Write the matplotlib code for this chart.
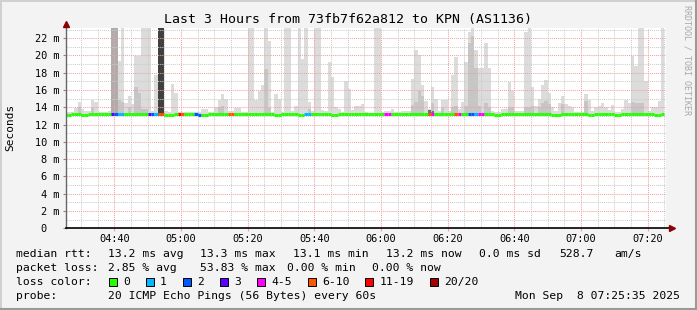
import numpy as np
import matplotlib
matplotlib.use("Agg")
import matplotlib.pyplot as plt
from matplotlib.patches import Rectangle

plt.rcParams["font.family"] = "DejaVu Sans Mono"

# one smoke bin per minute; minutes are counted from 04:00, bin 0 = 04:25-04:26
first_bin = 25
view_start = 25 + 35 / 60          # 04:25:35
view_end = view_start + 180        # 07:25:35
y_top = 23.18                      # ms, top of the canvas

smoke_min = 12.95  # ms, bottom of the smoke

# top of the light smoke (ms), 25.0 = off the top of the chart
smoke_max = [
    13.5, 13.5, 13.5, 13.9, 14.6, 13.8, 13.6, 13.6, 14.9, 14.6,
    13.5, 13.5, 13.5, 13.6, 25.0, 25.0, 19.4, 25.0, 14.5, 15.35,
    14.4, 19.9, 19.9, 25.0, 25.0, 25.0, 13.6, 17.7, 25.0, 25.0,
    13.6, 13.5, 16.7, 15.7, 13.5, 13.5, 13.5, 13.5, 13.5, 13.5,
    13.5, 13.8, 13.8, 13.5, 13.5, 14.0, 14.8, 15.5, 15.0, 13.6,
    13.6, 13.9, 13.9, 13.5, 13.5, 25.0, 25.0, 14.8, 15.9, 16.6,
    25.0, 21.7, 13.5, 15.5, 15.0, 13.5, 25.0, 25.0, 13.6, 14.2,
    25.0, 19.6, 25.0, 14.6, 13.6, 25.0, 25.0, 13.7, 13.55, 19.2,
    17.5, 14.0, 13.8, 13.5, 17.0, 16.1, 13.7, 14.2, 14.2, 14.4,
    13.5, 13.4, 13.4, 25.0, 25.0, 13.5, 13.6, 13.6, 13.8, 13.5,
    13.5, 13.55, 13.55, 13.55, 17.3, 20.6, 20.0, 16.6, 14.7, 13.8,
    16.4, 15.0, 13.55, 14.9, 14.9, 13.55, 17.7, 19.8, 13.8, 14.6,
    19.2, 22.7, 25.0, 20.6, 18.6, 18.6, 21.5, 18.6, 13.55, 13.5,
    13.5, 13.8, 13.8, 16.9, 15.9, 13.55, 13.6, 13.6, 22.7, 25.0,
    16.4, 14.2, 15.0, 16.6, 17.2, 15.7, 14.0, 13.55, 14.5, 15.35,
    14.4, 14.2, 14.0, 13.5, 13.5, 13.5, 15.5, 14.9, 13.55, 14.0,
    14.2, 14.5, 14.0, 13.7, 14.3, 13.5, 13.5, 13.8, 14.9, 14.5,
    19.9, 18.8, 25.0, 25.0, 17.0, 13.55, 14.0, 14.0, 14.7, 25.0,
]

# denser inner smoke: bin -> top (ms)
smoke_mid = {
    4: 14.0, 8: 13.9, 16: 14.9, 17: 14.6, 19: 14.0, 21: 16.4, 22: 15.6,
    23: 13.8, 24: 13.8, 46: 14.0, 47: 14.1, 60: 18.4, 61: 13.9, 73: 13.8,
    104: 14.3, 105: 14.6, 106: 15.9, 107: 15.35, 110: 14.5, 113: 13.9,
    116: 14.0, 117: 14.2, 120: 14.2, 121: 21.5, 122: 22.2, 123: 18.6,
    124: 14.2, 126: 14.5, 127: 14.0, 133: 14.0, 134: 14.0, 138: 14.0,
    139: 14.0, 140: 14.2, 142: 14.0, 143: 14.5, 144: 14.7, 145: 14.4,
    149: 14.4, 156: 14.7, 170: 14.6, 171: 14.5, 172: 14.5, 173: 14.5,
}
heavy_top = {14: 25.0, 15: 25.0}
black_top = {28: 25.0, 29: 25.0}
dark_top = {109: 13.7, 110: 13.6}

median_rtt = [
    13.1, 13.1, 13.2, 13.2, 13.2, 13.1, 13.1, 13.2, 13.2, 13.2, 13.2, 13.2, 13.2, 13.2, 13.2, 13.2, 13.2, 13.2, 13.2, 13.2,
    13.2, 13.2, 13.2, 13.2, 13.2, 13.2, 13.2, 13.2, 13.2, 13.2, 13.1, 13.1, 13.1, 13.2, 13.2, 13.2, 13.2, 13.2, 13.2, 13.2,
    13.1, 13.1, 13.1, 13.2, 13.2, 13.2, 13.2, 13.2, 13.2, 13.2, 13.2, 13.2, 13.2, 13.2, 13.2, 13.2, 13.2, 13.2, 13.2, 13.2,
    13.2, 13.2, 13.2, 13.1, 13.1, 13.2, 13.2, 13.2, 13.2, 13.2, 13.1, 13.1, 13.2, 13.2, 13.2, 13.2, 13.2, 13.2, 13.2, 13.2,
    13.1, 13.1, 13.2, 13.2, 13.2, 13.2, 13.2, 13.2, 13.2, 13.2, 13.2, 13.2, 13.2, 13.2, 13.2, 13.2, 13.2, 13.2, 13.2, 13.2,
    13.2, 13.2, 13.2, 13.2, 13.2, 13.2, 13.2, 13.2, 13.2, 13.2, 13.2, 13.2, 13.2, 13.2, 13.2, 13.2, 13.2, 13.2, 13.2, 13.2,
    13.2, 13.2, 13.2, 13.2, 13.2, 13.2, 13.2, 13.2, 13.2, 13.1, 13.1, 13.2, 13.2, 13.2, 13.2, 13.2, 13.2, 13.2, 13.2, 13.2,
    13.2, 13.2, 13.2, 13.2, 13.2, 13.2, 13.1, 13.1, 13.1, 13.2, 13.2, 13.2, 13.2, 13.2, 13.2, 13.2, 13.2, 13.1, 13.1, 13.2,
    13.2, 13.2, 13.2, 13.2, 13.2, 13.1, 13.1, 13.2, 13.2, 13.2, 13.2, 13.2, 13.2, 13.2, 13.2, 13.2, 13.2, 13.1, 13.1, 13.2,
]

# index into loss_labels for each bin
loss_level = [
    0, 0, 0, 0, 0, 0, 0, 0, 0, 0, 0, 0, 0, 0, 3, 2, 1, 1, 0, 0,
    0, 0, 0, 0, 0, 3, 2, 1, 5, 5, 0, 0, 0, 0, 6, 5, 0, 0, 0, 2,
    2, 0, 0, 0, 0, 0, 0, 0, 0, 5, 5, 0, 0, 0, 0, 0, 0, 0, 0, 0,
    0, 0, 0, 0, 0, 0, 0, 0, 0, 0, 0, 0, 1, 1, 0, 0, 0, 0, 0, 0,
    0, 0, 0, 0, 0, 0, 0, 0, 0, 0, 0, 0, 0, 0, 0, 0, 4, 4, 0, 0,
    0, 0, 0, 0, 0, 0, 0, 0, 0, 5, 4, 0, 0, 0, 0, 0, 0, 5, 4, 0,
    0, 2, 2, 1, 4, 4, 0, 0, 0, 0, 0, 0, 0, 0, 0, 0, 0, 0, 0, 0,
    0, 0, 0, 0, 0, 0, 0, 0, 0, 0, 0, 0, 0, 0, 0, 0, 0, 0, 0, 0,
    0, 0, 0, 0, 0, 0, 0, 0, 0, 0, 0, 0, 0, 0, 0, 0, 0, 0, 0, 0,
]
loss_labels = ["0", "1", "2", "3", "4-5", "6-10", "11-19", "20/20"]
loss_colors = ["#26ff00", "#00b8ff", "#0059ff", "#5e00ff",
               "#ff00ff", "#ff5500", "#ff0000", "#a10000"]

time_ticks = [40, 60, 80, 100, 120, 140, 160, 180, 200]
time_labels = ["04:40", "05:00", "05:20", "05:40", "06:00",
               "06:20", "06:40", "07:00", "07:20"]
ms_ticks = [0, 2, 4, 6, 8, 10, 12, 14, 16, 18, 20, 22]
ms_labels = ["0  "] + [f"{v} m" for v in ms_ticks[1:]]

title = "Last 3 Hours from 73fb7f62a812 to KPN (AS1136)"
rtt_stats = ["13.2 ms avg", "13.3 ms max", "13.1 ms min", "13.2 ms now",
             "0.0 ms sd", "528.7", "am/s"]
loss_stats = ["2.85 % avg", "53.83 % max", "0.00 % min", "0.00 % now"]
probe_text = "20 ICMP Echo Pings (56 Bytes) every 60s"
stamp = "Mon Sep  8 07:25:35 2025"

W, H = 697, 310
fig = plt.figure(figsize=(W / 100, H / 100), dpi=100, facecolor="#f3f3f3")
ax = fig.add_axes([66.3 / W, (H - 228.3) / H, 600 / W, 200.3 / H])
ax.set_facecolor("white")
for s in ax.spines.values():
    s.set_visible(False)

bins = first_bin + np.arange(len(smoke_max))

# smoke
ax.bar(bins, np.array(smoke_max) - smoke_min, bottom=smoke_min, width=1,
       align="edge", color="#dcdcdc", linewidth=0, zorder=1)
mb = np.array(list(smoke_mid.keys()))
ax.bar(first_bin + mb, np.array(list(smoke_mid.values())) - smoke_min,
       bottom=smoke_min, width=1, align="edge", color="#c6c6c6",
       linewidth=0, zorder=1.1)
for d, col in ((heavy_top, "#adadad"), (black_top, "#404040"),
               (dark_top, "#707070")):
    k = np.array(list(d.keys()))
    ax.bar(first_bin + k, np.array(list(d.values())) - smoke_min,
           bottom=smoke_min, width=1, align="edge", color=col,
           linewidth=0, zorder=1.2)

# median, coloured by loss
seg_colors = [loss_colors[i] for i in loss_level]
ax.hlines(median_rtt, bins, bins + 1, colors=seg_colors, linewidth=2.2,
          capstyle="butt", zorder=3)

ax.set_xlim(view_start, view_end)
ax.set_ylim(0, y_top)

ax.set_xticks(time_ticks)
ax.set_xticklabels(time_labels)
ax.set_xticks([m for m in range(30, 206, 5) if m % 20], minor=True)
ax.set_yticks(ms_ticks)
ax.set_yticklabels(ms_labels)
ax.set_yticks(list(range(1, 24, 2)), minor=True)
ax.set_axisbelow(False)
ax.grid(which="minor", color="#cccccc", linestyle=(0, (1, 1)), linewidth=0.75)
ax.grid(which="major", color="#f4a0a0", linestyle=(0, (1, 1)), linewidth=0.75)
ax.tick_params(which="both", length=0, labelsize=7.4, colors="black")
ax.tick_params(axis="y", which="major", length=2, color="#888888", pad=3)
ax.tick_params(axis="x", which="major", length=2, color="#f4a0a0", pad=2)

# axes with arrows
ax.plot([view_start, view_start], [0, 23.6], color="#666666", lw=1,
        clip_on=False, zorder=5)
ax.plot([view_start, 207.0], [0, 0], color="black", lw=1.2,
        clip_on=False, zorder=5)
ax.plot(view_start, 23.7, marker="^", ms=4.5, color="#8b0000",
        clip_on=False, zorder=6)
ax.plot(207.2, 0, marker=">", ms=4.5, color="#8b0000",
        clip_on=False, zorder=6)

# overlay in pixel coordinates for texts and frame
ov = fig.add_axes([0, 0, 1, 1], zorder=10)
ov.set_xlim(0, W)
ov.set_ylim(H, 0)
ov.axis("off")

ov.plot([0.5, 0.5], [0, H], color="#d0d0d0", lw=1.4)
ov.plot([0, W], [0.5, 0.5], color="#d0d0d0", lw=1.4)
ov.plot([W - 1, W - 1], [0, H], color="#9a9a9a", lw=1.5)
ov.plot([0, W], [H - 1, H - 1], color="#9a9a9a", lw=1.5)

ov.text(348, 19, title, ha="center", va="center", fontsize=9.5)
ov.text(10, 127, "Seconds", rotation=90, ha="center", va="center", fontsize=8.0)
ov.text(687, 60, "RRDTOOL / TOBI OETIKER", rotation=270, ha="center",
        va="center", fontsize=6, color="#a8a8a8")

fs = 8.2
rows = [254.3, 268.3, 282.3, 296.0]
ov.text(16, rows[0], "median rtt:", va="center", fontsize=fs)
for x, t in zip([107.6, 200, 293, 386.5, 479, 559, 614], rtt_stats):
    ov.text(x, rows[0], t, va="center", fontsize=fs)
ov.text(16, rows[1], "packet loss:", va="center", fontsize=fs)
for x, t in zip([107.6, 200, 286.7, 372.4], loss_stats):
    ov.text(x, rows[1], t, va="center", fontsize=fs)
ov.text(16, rows[2], "loss color:", va="center", fontsize=fs)
box_x = [109, 145.5, 182.5, 220, 257, 307.5, 365, 430]
for x, lab, col in zip(box_x, loss_labels, loss_colors):
    ov.add_patch(Rectangle((x, rows[2] - 4), 8, 8, facecolor=col,
                           edgecolor="black", linewidth=0.7))
    ov.text(x + 14.5, rows[2], lab, va="center", fontsize=fs)
ov.text(16, rows[3], "probe:", va="center", fontsize=fs)
ov.text(107.6, rows[3], probe_text, va="center", fontsize=fs)
ov.text(680, rows[3], stamp, va="center", ha="right", fontsize=fs)

fig.savefig("out.png", dpi=100, facecolor=fig.get_facecolor())
